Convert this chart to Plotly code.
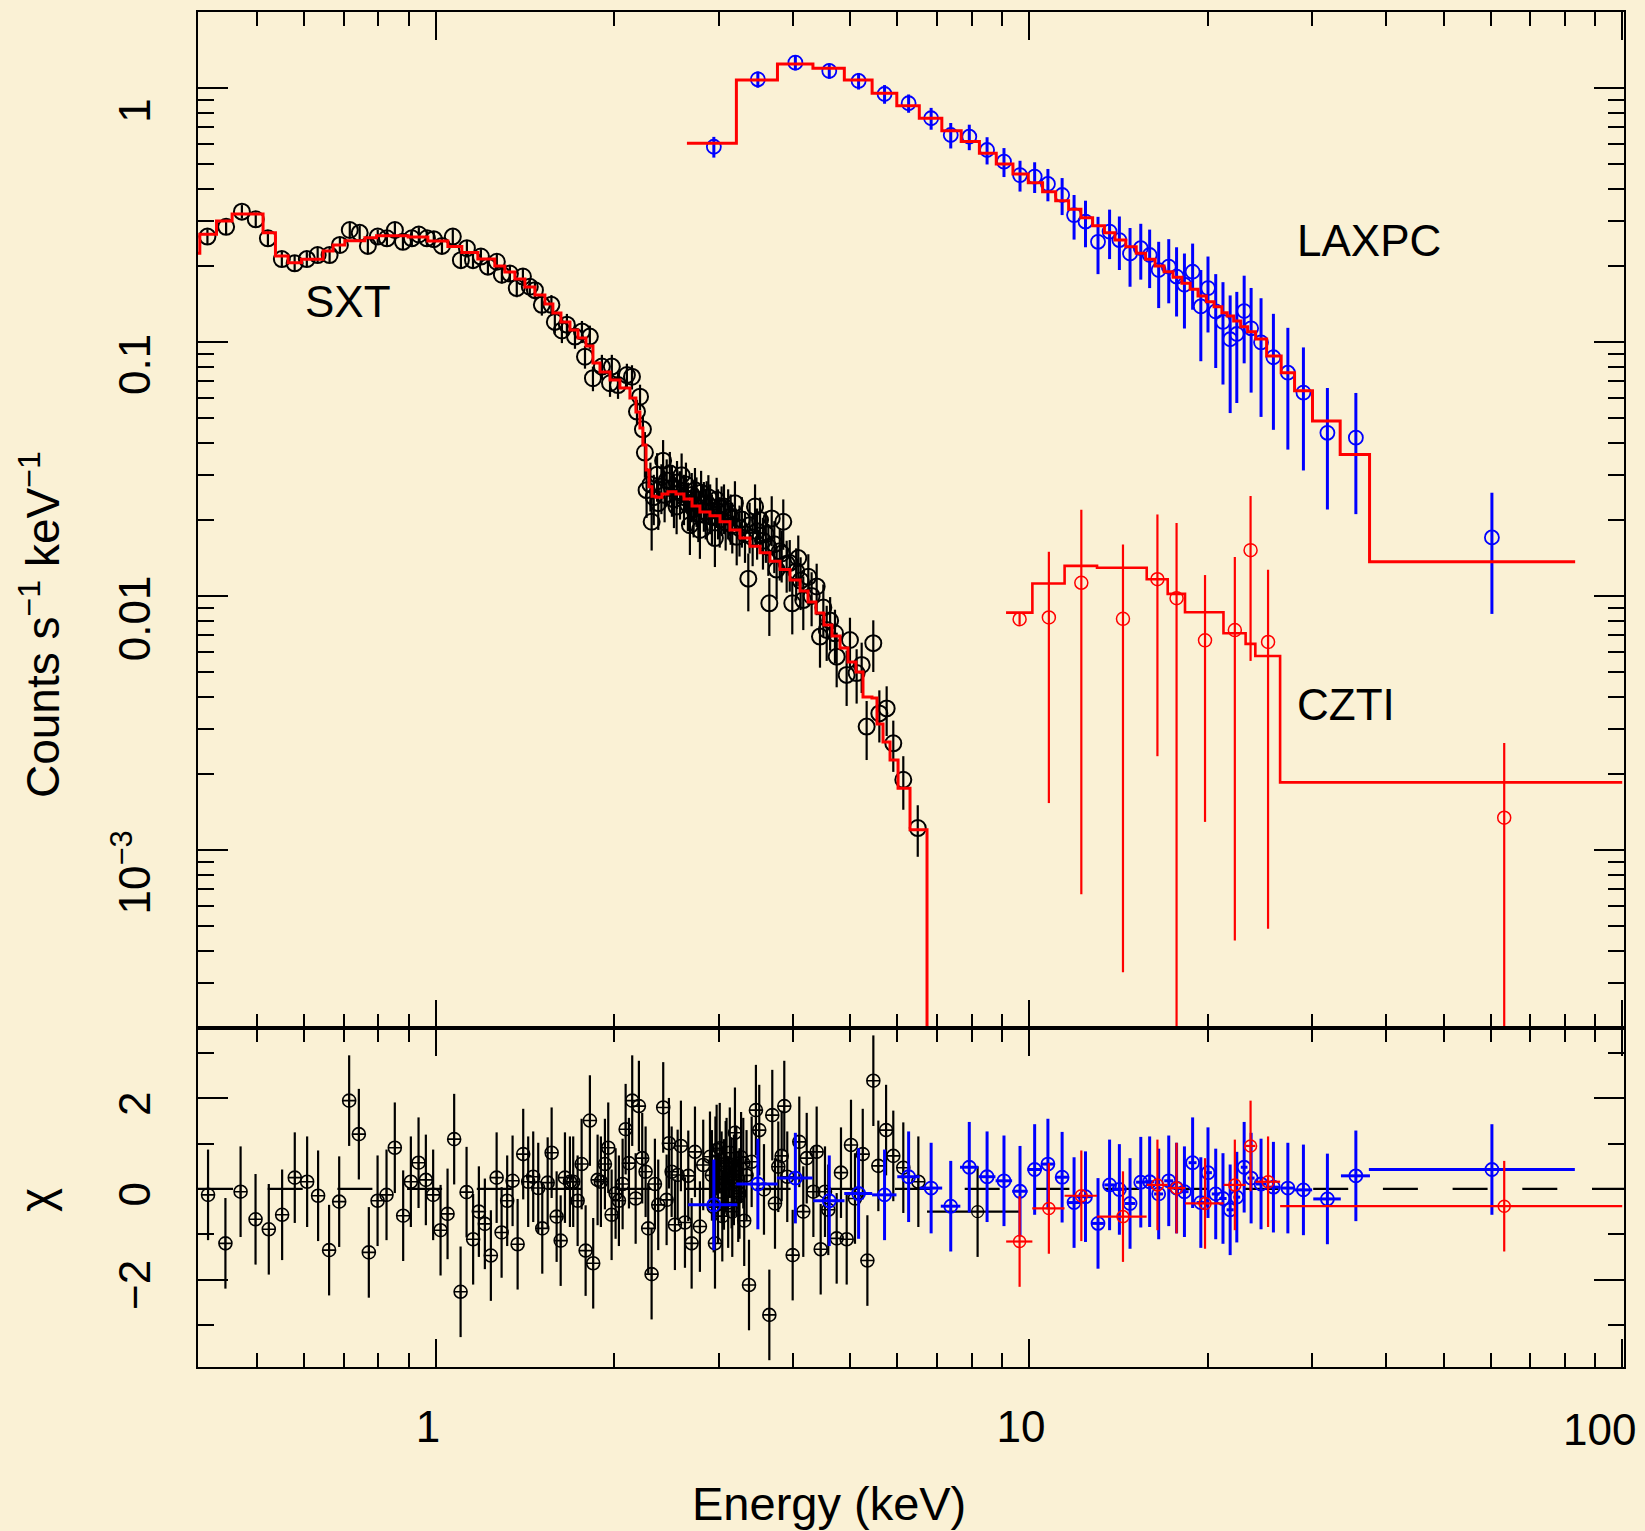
import plotly.graph_objects as go

# ---------------- tick values ----------------
x_major = [1, 10, 100]
x_major_text = ["1", "10", ""]          # "100" is placed as an annotation so it stays inside the page
x_edge_label = "100"
x_minor = [0.5, 0.6, 0.7, 0.8, 0.9, 2, 3, 4, 5, 6, 7, 8, 9, 20, 30, 40, 50, 60, 70, 80, 90]
y_major = [0.001, 0.01, 0.1, 1]
y_major_text = ["10<sup>−3</sup>", "0.01", "0.1", "1"]
y_minor = [3e-4, 4e-4, 5e-4, 6e-4, 7e-4, 8e-4, 9e-4,
           2e-3, 3e-3, 4e-3, 5e-3, 6e-3, 7e-3, 8e-3, 9e-3,
           0.02, 0.03, 0.04, 0.05, 0.06, 0.07, 0.08, 0.09,
           0.2, 0.3, 0.4, 0.5, 0.6, 0.7, 0.8, 0.9]
chi_major = [-2, 0, 2]
chi_major_text = ["−2", "0", "2"]
chi_minor = [-3, -1, 1, 3]

# ---------------- SXT spectrum (upper panel) ----------------
sxt_energy = [0.412, 0.443, 0.471, 0.497, 0.521, 0.550, 0.578, 0.606, 0.632, 0.662,
              0.689, 0.716, 0.744, 0.768, 0.798, 0.827, 0.853, 0.880, 0.911, 0.936,
              0.966, 0.992, 1.024, 1.068, 1.102, 1.128, 1.155, 1.191, 1.224, 1.267,
              1.292, 1.333, 1.369, 1.402, 1.440, 1.469, 1.509, 1.566, 1.587, 1.631,
              1.663, 1.716, 1.763, 1.784, 1.818, 1.840, 1.905, 1.966, 1.980, 2.028,
              2.099, 2.141, 2.183, 2.209, 2.234,
              2.251, 2.266, 2.300, 2.311, 2.330, 2.360, 2.371, 2.400, 2.416, 2.430,
              2.450, 2.480, 2.500, 2.520, 2.546, 2.550, 2.580, 2.596, 2.620, 2.640,
              2.660, 2.681, 2.700, 2.720, 2.734, 2.750, 2.770, 2.787, 2.800, 2.830,
              2.850, 2.861, 2.880, 2.900, 2.920, 2.954, 2.974, 2.990, 3.010, 3.032,
              3.060, 3.080, 3.110, 3.140, 3.160, 3.193, 3.215, 3.250, 3.280, 3.320,
              3.363, 3.380, 3.420, 3.452, 3.480, 3.520, 3.560, 3.600, 3.635, 3.649,
              3.683, 3.720, 3.754, 3.800, 3.828, 3.852, 3.903, 3.950, 3.989, 4.050,
              4.083, 4.120, 4.163, 4.245, 4.300, 4.385, 4.442, 4.500, 4.559, 4.620,
              4.708, 4.739, 4.926, 4.990, 5.121, 5.222, 5.324, 5.463, 5.593, 5.754,
              5.904, 6.138, 6.492]
sxt_rate = [0.260, 0.284, 0.326, 0.304, 0.256, 0.212, 0.204, 0.212, 0.220, 0.220,
            0.241, 0.276, 0.269, 0.239, 0.260, 0.256, 0.276, 0.248, 0.256, 0.265,
            0.256, 0.254, 0.239, 0.260, 0.210, 0.234, 0.210, 0.217, 0.198, 0.207,
            0.184, 0.186, 0.163, 0.181, 0.165, 0.160, 0.140, 0.140, 0.120, 0.111,
            0.117, 0.105, 0.110, 0.0875, 0.105, 0.072, 0.080, 0.0688, 0.080, 0.0677,
            0.0741, 0.073, 0.0532, 0.0609, 0.0453,
            0.0367, 0.0261, 0.0275, 0.0196, 0.0245, 0.0300, 0.0232, 0.0270, 0.0341, 0.0250,
            0.0285, 0.0304, 0.0265, 0.0240, 0.0225, 0.0280, 0.0255, 0.0299, 0.0245, 0.0275,
            0.0230, 0.0190, 0.0250, 0.0220, 0.0261, 0.0240, 0.0210, 0.0182, 0.0255, 0.0230,
            0.0215, 0.0232, 0.0245, 0.0225, 0.0205, 0.0169, 0.0239, 0.0215, 0.0200, 0.0221,
            0.0225, 0.0195, 0.0215, 0.0205, 0.0190, 0.0232, 0.0171, 0.0185, 0.0200, 0.0175,
            0.0117, 0.0190, 0.0170, 0.0225, 0.0180, 0.0199, 0.0165, 0.0175, 0.0156, 0.00936,
            0.0202, 0.0160, 0.0127, 0.0150, 0.0147, 0.0196, 0.0134, 0.0135, 0.00936, 0.0125,
            0.0141, 0.0115, 0.00964, 0.0119, 0.0100, 0.0109, 0.00692, 0.0090, 0.00735, 0.0080,
            0.00713, 0.00577, 0.00489, 0.00671, 0.00497, 0.00535, 0.00306, 0.00652, 0.00345, 0.00361,
            0.00263, 0.00189, 0.00122]
sxt_err = [0.018, 0.019, 0.020, 0.020, 0.017, 0.015, 0.014, 0.014, 0.015, 0.015,
           0.016, 0.018, 0.018, 0.016, 0.017, 0.017, 0.018, 0.017, 0.017, 0.018,
           0.017, 0.017, 0.016, 0.018, 0.015, 0.016, 0.015, 0.015, 0.014, 0.015,
           0.014, 0.014, 0.013, 0.014, 0.013, 0.013, 0.013, 0.013, 0.012, 0.012,
           0.012, 0.011, 0.011, 0.009, 0.011, 0.008, 0.009, 0.008, 0.009, 0.008,
           0.008, 0.008, 0.006, 0.007, 0.006,
           0.0075, 0.0058, 0.006, 0.0045, 0.0055, 0.0065, 0.005, 0.006, 0.007, 0.0055,
           0.006, 0.0065, 0.006, 0.0055, 0.005, 0.006, 0.0055, 0.0065, 0.0055, 0.006,
           0.005, 0.0045, 0.0055, 0.005, 0.0058, 0.0053, 0.0047, 0.0042, 0.0056, 0.0051,
           0.0048, 0.0051, 0.0054, 0.005, 0.0046, 0.0039, 0.0053, 0.0048, 0.0045, 0.0049,
           0.005, 0.0044, 0.0048, 0.0046, 0.0043, 0.0051, 0.0039, 0.0042, 0.0045, 0.004,
           0.003, 0.0043, 0.0039, 0.005, 0.0041, 0.0045, 0.0038, 0.004, 0.0036, 0.0024,
           0.0045, 0.0037, 0.003, 0.0035, 0.0034, 0.0044, 0.0031, 0.0031, 0.0023, 0.0029,
           0.0032, 0.0027, 0.0023, 0.0027, 0.0024, 0.0025, 0.0017, 0.0021, 0.0018, 0.0019,
           0.0017, 0.0014, 0.0012, 0.0015, 0.0012, 0.0012, 0.0008, 0.0015, 0.0008, 0.0008,
           0.0006, 0.00045, 0.00028]

# SXT model (bin edges in keV, model value per bin)
sxt_model_edges = [0.3847, 0.400, 0.4268, 0.4534, 0.5113, 0.5365, 0.5635, 0.5935, 0.6456, 0.6710,
                   0.7023, 0.7592, 0.7943, 0.8980, 0.9694, 1.0477, 1.106, 1.177, 1.257, 1.307,
                   1.359, 1.413, 1.469, 1.527, 1.575, 1.625, 1.683, 1.736, 1.791, 1.840,
                   1.891, 1.966, 2.043, 2.124, 2.174, 2.208, 2.234, 2.261, 2.287, 2.314,
                   2.350, 2.405, 2.462, 2.540, 2.620, 2.703, 2.787, 2.898, 3.013, 3.132,
                   3.256, 3.385, 3.519, 3.658, 3.803, 3.954, 4.111, 4.240, 4.373, 4.511,
                   4.654, 4.801, 4.952, 5.108, 5.249, 5.435, 5.542, 5.673, 5.830, 6.014,
                   6.300, 6.730, 6.75]
sxt_model = [0.2235, 0.2655, 0.2995, 0.3191, 0.2694, 0.2181, 0.2052, 0.2116, 0.2282, 0.2409,
             0.2504, 0.2573, 0.2620, 0.2590, 0.2497, 0.2377, 0.2251, 0.2122, 0.1992, 0.1886,
             0.1770, 0.1646, 0.1531, 0.1411, 0.1301, 0.1199, 0.1115, 0.1037, 0.0965, 0.0827,
             0.0762, 0.0709, 0.0659, 0.0602, 0.0530, 0.0459, 0.0393, 0.0313, 0.0269, 0.0247,
             0.0245, 0.0252, 0.0257, 0.0252, 0.0241, 0.0226, 0.0214, 0.0207, 0.0196, 0.0182,
             0.0169, 0.0157, 0.0148, 0.0137, 0.0127, 0.01156, 0.01046, 0.00947, 0.00857, 0.00769,
             0.00696, 0.00624, 0.00550, 0.00502, 0.00400, 0.00397, 0.00313, 0.00266, 0.00226, 0.00175,
             0.00120, 1e-7]

# ---------------- LAXPC ----------------
laxpc_energy = [2.942, 3.490, 4.037, 4.605, 5.160, 5.707, 6.266, 6.838, 7.379, 7.930,
                8.497, 9.073, 9.656, 10.22, 10.76, 11.37, 11.91, 12.45, 13.07, 13.67,
                14.20, 14.80, 15.43, 15.97, 16.54, 17.20, 17.73, 18.28, 18.87, 19.48,
                20.03, 20.64, 21.23, 21.83, 22.40, 23.05, 23.68, 24.61, 25.82, 27.31,
                29.01, 31.84, 35.56, 60.3]
laxpc_rate = [0.587, 1.082, 1.258, 1.167, 1.066, 0.947, 0.871, 0.760, 0.653, 0.643,
              0.570, 0.513, 0.454, 0.448, 0.419, 0.379, 0.316, 0.298, 0.248, 0.272,
              0.252, 0.223, 0.234, 0.220, 0.192, 0.198, 0.181, 0.168, 0.189, 0.138,
              0.163, 0.132, 0.120, 0.1025, 0.1075, 0.1324, 0.1132, 0.0997, 0.0871, 0.0757,
              0.0632, 0.0439, 0.0420, 0.0170]
laxpc_err = [0.055, 0.08, 0.085, 0.08, 0.08, 0.08, 0.072, 0.075, 0.075, 0.074,
             0.07, 0.067, 0.063, 0.062, 0.061, 0.063, 0.063, 0.062, 0.063, 0.06,
             0.06, 0.058, 0.058, 0.057, 0.056, 0.056, 0.055, 0.055, 0.055, 0.054,
             0.054, 0.053, 0.052, 0.05, 0.05, 0.05, 0.05, 0.049, 0.042, 0.038,
             0.032, 0.022, 0.021, 0.0085]
laxpc_halfwidth = [0.28, 0.28, 0.28, 0.28, 0.28, 0.27, 0.27, 0.30, 0.28, 0.28,
                   0.28, 0.29, 0.29, 0.285, 0.275, 0.285, 0.285, 0.285, 0.30, 0.28,
                   0.30, 0.30, 0.28, 0.295, 0.29, 0.30, 0.305, 0.295, 0.29, 0.315,
                   0.305, 0.315, 0.3, 0.3, 0.3, 0.3, 0.32, 0.5, 0.6, 0.75,
                   1.0, 1.7, 2.0, 22.9]
laxpc_chi = [-0.35, 0.11, 0.24, -0.26, -0.10, -0.13, 0.27, 0.02, -0.38, 0.48,
             0.27, 0.18, -0.05, 0.43, 0.55, 0.26, -0.30, -0.17, -0.76, 0.09,
             -0.01, -0.32, 0.15, 0.16, -0.11, 0.18, 0.02, -0.06, 0.58, -0.30,
             0.36, -0.11, -0.21, -0.46, -0.18, 0.48, 0.24, 0.11, 0.04, 0.02,
             -0.02, -0.22, 0.29, 0.43]
laxpc_model_edges = [2.650, 3.211, 3.766, 4.322, 4.882, 5.438, 5.985, 6.531, 7.128, 7.685,
                     8.247, 8.805, 9.394, 9.970, 10.54, 11.09, 11.66, 12.23, 12.80, 13.40,
                     13.96, 14.56, 15.16, 15.72, 16.31, 16.89, 17.49, 18.10, 18.69, 19.27,
                     19.90, 20.51, 21.14, 21.58, 22.13, 22.74, 23.36, 24.10, 25.15, 26.61,
                     28.03, 30.05, 33.46, 37.50, 83.3]
laxpc_model = [0.6057, 1.075, 1.243, 1.196, 1.075, 0.953, 0.852, 0.760, 0.679, 0.615,
               0.553, 0.502, 0.4585, 0.4237, 0.3906, 0.3599, 0.3331, 0.3086, 0.2870, 0.2694,
               0.2521, 0.2372, 0.2235, 0.2116, 0.1992, 0.1891, 0.1798, 0.1702, 0.1612, 0.1518,
               0.1441, 0.1377, 0.1304, 0.1265, 0.1210, 0.1149, 0.1098, 0.1027, 0.0881, 0.0757,
               0.0643, 0.0489, 0.0361, 0.01365]

# ---------------- CZTI ----------------
czti_energy = [9.64, 10.80, 12.25, 14.40, 16.46, 17.73, 19.80, 22.23, 23.63, 25.29, 63.25]
czti_rate = [0.00810, 0.00823, 0.01127, 0.00813, 0.01164, 0.00980, 0.00669, 0.00734, 0.01515, 0.00659, 0.00134]
czti_err = [0.0004, 0.0067, 0.0106, 0.0078, 0.0093, 0.0096, 0.0054, 0.0069, 0.0096, 0.0061, 0.0013]
czti_halfwidth = [0.49, 0.675, 0.77, 1.385, 0.67, 0.6, 1.475, 0.955, 0.445, 1.215, 36.75]
czti_chi = [-1.16, -0.43, -0.15, -0.61, 0.09, 0.02, -0.32, 0.09, 0.95, 0.16, -0.38]
czti_model_edges = [9.146, 10.13, 11.48, 13.02, 15.79, 17.13, 18.32, 21.27, 23.18, 24.07, 26.5, 100]
czti_model = [0.0086, 0.0112, 0.01314, 0.01292, 0.01164, 0.01019, 0.00863, 0.00713, 0.00648, 0.0058, 0.001846]

# ---------------- SXT residuals ----------------
sxt_res_energy = [0.413, 0.4418, 0.4686, 0.4966, 0.5228, 0.5506, 0.5783, 0.6067, 0.6331, 0.6607,
                  0.6871, 0.7142, 0.7416, 0.7709, 0.7975, 0.8257, 0.8527, 0.8808, 0.9075, 0.9350,
                  0.9619, 0.9895, 1.0184, 1.0464, 1.0736, 1.1008, 1.1266, 1.1557, 1.1817, 1.2095,
                  1.2380, 1.2660, 1.2907, 1.3190, 1.3469, 1.3735, 1.4036, 1.4310, 1.4592, 1.4879,
                  1.5114, 1.5434, 1.5674, 1.5981, 1.6233, 1.6505, 1.6827, 1.7043, 1.7338, 1.7609,
                  1.7884, 1.8183, 1.8418, 1.8735, 1.8976, 1.9275, 1.9525, 1.9783, 2.0091, 2.0352,
                  2.0646, 2.0890, 2.1160, 2.1429, 2.1717, 2.1993, 2.2278, 2.2573, 2.2803, 2.3104,
                  2.3403, 2.3707, 2.4170, 2.4491, 2.4711, 2.4974, 2.5293, 2.5562, 2.5889, 2.6298,
                  2.6639, 2.6990,
                  2.734, 2.787, 2.823, 2.898, 2.955, 2.974, 3.032, 3.091, 3.152, 3.193,
                  3.234, 3.298, 3.372, 3.407, 3.464, 3.509, 3.574, 3.649, 3.691, 3.730,
                  3.778, 3.828, 3.867, 3.912, 3.995, 4.099, 4.163, 4.219, 4.329, 4.385,
                  4.454, 4.529, 4.587, 4.739, 4.819, 4.927, 5.010, 5.088, 5.244, 5.339,
                  5.464, 5.571, 5.741, 5.904, 6.138, 6.507,
                  2.92, 2.94, 2.96, 2.99, 3.01, 3.04, 3.06, 3.08, 3.11, 3.13,
                  3.16, 3.18, 3.21, 3.25, 3.27, 3.31, 3.34]
sxt_res_chi = [-0.13, -1.2, -0.06, -0.67, -0.89, -0.57, 0.25, 0.16, -0.15, -1.35,
               -0.28, 1.95, 1.21, -1.4, -0.26, -0.13, 0.91, -0.59, 0.16, 0.58,
               0.2, -0.13, -0.91, -0.55, 1.1, -2.27, -0.07, -1.11, -0.5, -0.77,
               -1.47, 0.25, -0.96, -0.26, 0.18, -1.22, 0.77, 0.16, 0.27, 0.02,
               -0.87, 0.14, 0.8, -0.61, -1.14, 0.25, 0.16, 0.16, -0.26, 0.55,
               -1.36, 1.51, -1.64, 0.2, 0.16, 0.55, 0.91, -0.57, -0.1, -0.26,
               0.11, 1.32, 0.57, 1.95, -0.21, 1.83, 0.68, 0.38, -0.87, -1.88,
               0.11, -0.35, 1.8, -0.24, 1.01, 0.38, -0.79, 0.31, 0.95, -0.74,
               0.29, -1.2,
               0.82, -0.83, 0.53, 0.71, -1.2, 0.86, 0.27, 0.57, 0.13, 1.24,
               -0.17, 0.57, -2.12, 0.6, 1.74, 1.3, -0.01, -2.78, 1.63, -0.32,
               0.49, 0.73, 1.83, 0.27, -1.46, 1.04, -0.5, 0.68, -0.06, 0.82,
               -1.33, -0.06, -0.46, -1.09, 0.36, -1.11, 0.97, -0.21, 0.77, -1.58,
               2.39, 0.51, 1.3, 0.73, 0.47, 0.16,
               0.3, -0.4, 0.6, -0.2, 0.9, -0.6, 0.1, 0.5, -0.3, 0.8,
               -0.5, 0.2, 0.4, -0.1, 0.7, -0.7, 0.3]
sxt_wide_energy = [8.19]
sxt_wide_chi = [-0.5]
sxt_wide_halfwidth = [1.46]

# ---------------- styling ----------------
BG = "#FAF1D5"
FONT = "Liberation Sans, Arial, Helvetica, sans-serif"
RED = "#FF0000"
BLUE = "#0000FF"
BLACK = "#000000"


def step_y(vals):
    return list(vals) + [vals[-1]]


fig = go.Figure()

# upper panel data
fig.add_trace(go.Scatter(x=sxt_energy, y=sxt_rate, mode="markers", xaxis="x", yaxis="y",
                         marker=dict(symbol="circle-open", size=16, color=BLACK, line=dict(width=2, color=BLACK)),
                         error_y=dict(type="data", array=sxt_err, color=BLACK, thickness=2.2, width=0),
                         showlegend=False))
fig.add_trace(go.Scatter(x=laxpc_energy, y=laxpc_rate, mode="markers", xaxis="x", yaxis="y",
                         marker=dict(symbol="circle-open", size=14, color=BLUE, line=dict(width=1.8, color=BLUE)),
                         error_y=dict(type="data", array=laxpc_err, color=BLUE, thickness=3, width=0),
                         showlegend=False))
fig.add_trace(go.Scatter(x=czti_energy, y=czti_rate, mode="markers", xaxis="x", yaxis="y",
                         marker=dict(symbol="circle-open", size=13, color=RED, line=dict(width=1.5, color=RED)),
                         error_y=dict(type="data", array=czti_err, color=RED, thickness=2.2, width=0),
                         showlegend=False))
# models
fig.add_trace(go.Scatter(x=sxt_model_edges, y=step_y(sxt_model), mode="lines", line_shape="hv",
                         xaxis="x", yaxis="y", line=dict(color=RED, width=3), showlegend=False))
fig.add_trace(go.Scatter(x=laxpc_model_edges, y=step_y(laxpc_model), mode="lines", line_shape="hv",
                         xaxis="x", yaxis="y", line=dict(color=RED, width=3), showlegend=False))
fig.add_trace(go.Scatter(x=czti_model_edges, y=step_y(czti_model), mode="lines", line_shape="hv",
                         xaxis="x", yaxis="y", line=dict(color=RED, width=2.6), showlegend=False))

# residual panel
fig.add_trace(go.Scatter(x=sxt_res_energy, y=sxt_res_chi, mode="markers", xaxis="x2", yaxis="y2",
                         marker=dict(symbol="circle-cross-open", size=13, color=BLACK, line=dict(width=1.6, color=BLACK)),
                         error_y=dict(type="constant", value=1, color=BLACK, thickness=2.2, width=0),
                         showlegend=False))
fig.add_trace(go.Scatter(x=sxt_wide_energy, y=sxt_wide_chi, mode="markers", xaxis="x2", yaxis="y2",
                         marker=dict(symbol="circle-open", size=12, color=BLACK, line=dict(width=1.2, color=BLACK)),
                         error_y=dict(type="constant", value=1, color=BLACK, thickness=2.2, width=0),
                         error_x=dict(type="data", array=sxt_wide_halfwidth, color=BLACK, thickness=2.2, width=0),
                         showlegend=False))
fig.add_trace(go.Scatter(x=laxpc_energy, y=laxpc_chi, mode="markers", xaxis="x2", yaxis="y2",
                         marker=dict(symbol="circle-open", size=13, color=BLUE, line=dict(width=1.8, color=BLUE)),
                         error_y=dict(type="constant", value=1, color=BLUE, thickness=3, width=0),
                         error_x=dict(type="data", array=laxpc_halfwidth, color=BLUE, thickness=3, width=0),
                         showlegend=False))
fig.add_trace(go.Scatter(x=czti_energy, y=czti_chi, mode="markers", xaxis="x2", yaxis="y2",
                         marker=dict(symbol="circle-open", size=12, color=RED, line=dict(width=1.5, color=RED)),
                         error_y=dict(type="constant", value=1, color=RED, thickness=2.2, width=0),
                         error_x=dict(type="data", array=czti_halfwidth, color=RED, thickness=2.2, width=0),
                         showlegend=False))

axis_common = dict(showline=True, linecolor=BLACK, linewidth=2, mirror="allticks", automargin=False,
                   ticks="inside", tickcolor=BLACK, tickwidth=2, showgrid=False, zeroline=False)

fig.update_layout(
    width=1645, height=1531,
    margin=dict(l=198, r=21, t=12, b=164, autoexpand=False),
    paper_bgcolor=BG, plot_bgcolor=BG,
    font=dict(family=FONT, size=44, color=BLACK),
    xaxis=dict(type="log", range=[-0.401, 2.003], domain=[0, 1], anchor="y",
               tickvals=x_major, ticklen=28, showticklabels=False,
               minor=dict(tickvals=x_minor, ticks="inside", ticklen=14, tickwidth=2, tickcolor=BLACK),
               **axis_common),
    yaxis=dict(type="log", range=[-3.7008, 0.2992], domain=[0.2502, 1], anchor="x",
               tickvals=y_major, ticktext=y_major_text, ticklen=30, tickangle=-90,
               tickfont=dict(size=44, family=FONT), ticklabelstandoff=28, ticklabelshift=29,
               minor=dict(tickvals=y_minor, ticks="inside", ticklen=16, tickwidth=2, tickcolor=BLACK),
               **axis_common),
    xaxis2=dict(type="log", range=[-0.401, 2.003], domain=[0, 1], anchor="y2",
                tickvals=x_major, ticktext=x_major_text, ticklen=28,
                tickfont=dict(size=44, family=FONT), ticklabelstandoff=20, ticklabelshift=-8,
                minor=dict(tickvals=x_minor, ticks="inside", ticklen=14, tickwidth=2, tickcolor=BLACK),
                **axis_common),
    yaxis2=dict(range=[-3.93, 3.554], domain=[0, 0.2502], anchor="x2",
                tickvals=chi_major, ticktext=chi_major_text, ticklen=30, tickangle=-90,
                tickfont=dict(size=44, family=FONT), ticklabelstandoff=28, ticklabelshift=12,
                minor=dict(tickvals=chi_minor, ticks="inside", ticklen=16, tickwidth=2, tickcolor=BLACK),
                **axis_common),
    shapes=[dict(type="line", xref="x2 domain", yref="y2", x0=0, x1=1, y0=0, y1=0,
                 line=dict(color=BLACK, width=2.2, dash="35px,34.7px"), layer="below")],
    annotations=[
        dict(text=x_edge_label, xref="x2 domain", yref="paper", x=1.0, y=-0.0458, xshift=14,
             showarrow=False, xanchor="right", yanchor="middle", font=dict(size=44, family=FONT)),
        dict(text="SXT", xref="paper", yref="paper", x=0.1052, y=0.7867, showarrow=False,
             xanchor="center", yanchor="middle", font=dict(size=44, family=FONT)),
        dict(text="LAXPC", xref="paper", yref="paper", x=0.8212, y=0.831, showarrow=False,
             xanchor="center", yanchor="middle", font=dict(size=44, family=FONT)),
        dict(text="CZTI", xref="paper", yref="paper", x=0.8048, y=0.4889, showarrow=False,
             xanchor="center", yanchor="middle", font=dict(size=44, family=FONT)),
        dict(text="Counts s<sup>−1</sup> keV<sup>−1</sup>", xref="paper", yref="paper",
             x=-0.1108, y=0.5483, showarrow=False, textangle=-90,
             xanchor="center", yanchor="middle", font=dict(size=46, family=FONT)),
        dict(text="χ", xref="paper", yref="paper", x=-0.1136, y=0.1232, showarrow=False,
             textangle=-90, xanchor="center", yanchor="middle", font=dict(size=46, family=FONT)),
        dict(text="Energy (keV)", xref="paper", yref="paper", x=0.4428, y=-0.1009, showarrow=False,
             xanchor="center", yanchor="middle", font=dict(size=47, family=FONT)),
    ],
)

fig.write_html("out.html")
